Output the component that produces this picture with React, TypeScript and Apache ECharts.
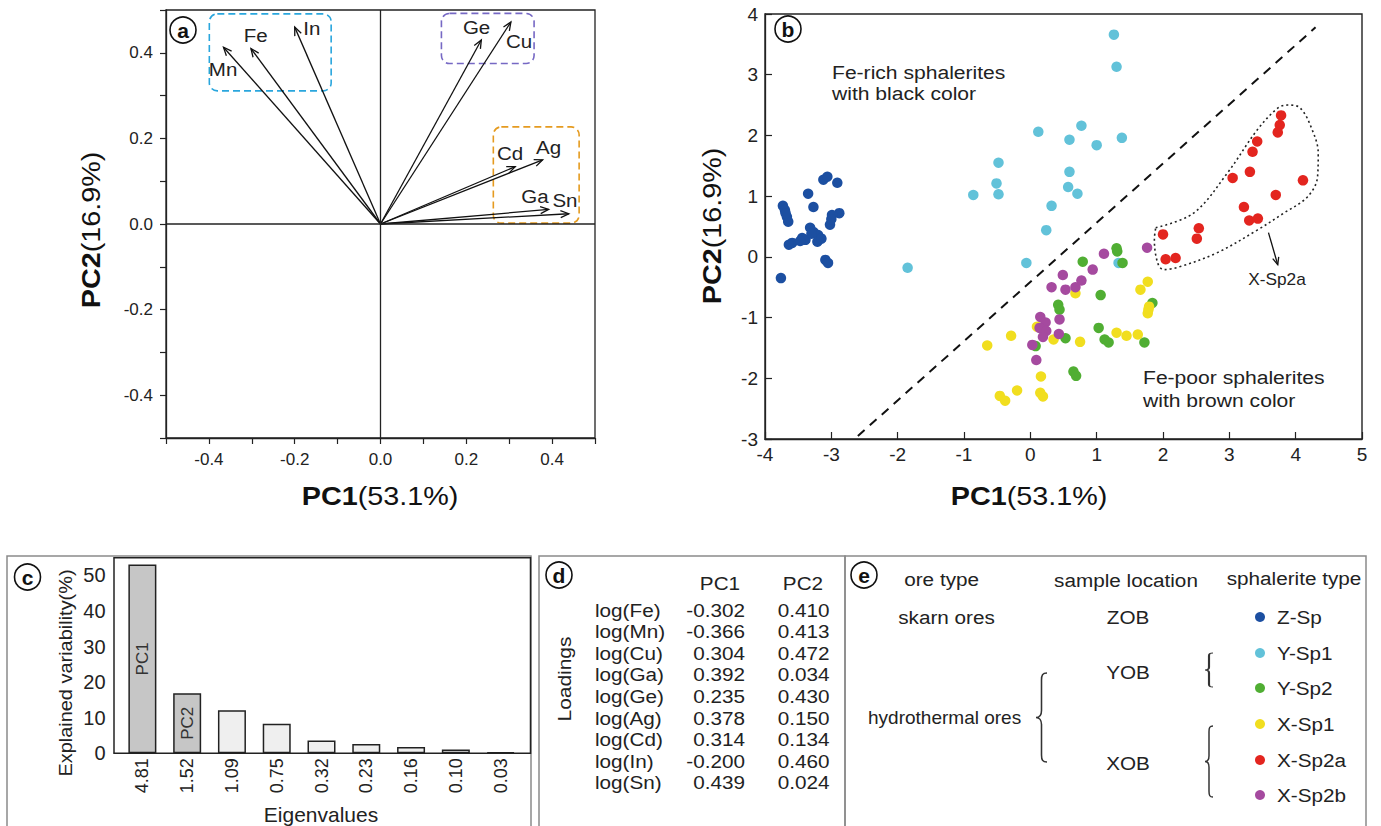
import React, { useEffect, useRef } from 'react';
import * as echarts from 'echarts';

const FONT = 'Liberation Sans, Arial, Helvetica, sans-serif';
const INK = '#222';

// ---------- panel a : loadings ----------
const elements = ['Fe', 'Mn', 'Cu', 'Ga', 'Ge', 'Ag', 'Cd', 'In', 'Sn'];
const pc1Loadings = [-0.302, -0.366, 0.304, 0.392, 0.235, 0.378, 0.314, -0.2, 0.439];
const pc2Loadings = [0.41, 0.413, 0.472, 0.034, 0.43, 0.15, 0.134, 0.46, 0.024];
const labelPc1 = [-0.291, -0.367, 0.323, 0.36, 0.224, 0.392, 0.302, -0.16, 0.43];
const labelPc2 = [0.442, 0.361, 0.428, 0.064, 0.459, 0.179, 0.165, 0.457, 0.056];
const groupBoxes = [
  [-0.399, 0.491, -0.115, 0.311],
  [0.142, 0.492, 0.358, 0.375],
  [0.263, 0.227, 0.463, 0.002],
];
const groupBoxColors = ['#2aa6dd', '#7668c4', '#e59b20'];

// ---------- panel b : scores ----------
const zSp = [
  [-3.12, 1.27], [-3.06, 1.32], [-2.91, 1.22], [-3.35, 1.04], [-3.73, 0.84], [-3.7, 0.77],
  [-3.67, 0.66], [-3.65, 0.58], [-3.27, 0.82], [-2.88, 0.72], [-2.99, 0.69], [-3.02, 0.53],
  [-3.32, 0.48], [-3.27, 0.41], [-3.2, 0.36], [-3.44, 0.31], [-3.39, 0.28], [-3.59, 0.23],
  [-3.64, 0.2], [-3.21, 0.25], [-3.09, -0.05], [-3.05, -0.1], [-3.76, -0.35], [-3.3, 0.38],
  [-3.15, 0.3], [-3.47, 0.26], [-3.69, 0.72], [-3.0, 0.62],
];
const ySp1 = [
  [1.26, 3.66], [1.3, 3.13], [0.12, 2.06], [0.77, 2.16], [0.59, 1.93], [1.0, 1.84], [1.38, 1.96],
  [-0.48, 1.55], [-0.51, 1.21], [-0.48, 1.03], [-0.86, 1.02], [0.59, 1.4], [0.57, 1.15],
  [0.71, 1.04], [0.32, 0.84], [0.24, 0.44], [-0.06, -0.1], [1.33, -0.1], [-1.85, -0.18],
];
const ySp2 = [
  [1.31, 0.09], [1.3, 0.14], [0.79, -0.08], [1.39, -0.1], [1.06, -0.63], [0.42, -0.79], [0.44, -0.87],
  [1.84, -0.76], [1.03, -1.17], [0.53, -1.34], [1.12, -1.36], [1.18, -1.41], [1.72, -1.41],
  [0.08, -1.47], [0.65, -1.89], [0.69, -1.96],
];
const xSp1 = [
  [1.77, -0.41], [1.66, -0.54], [0.68, -0.6], [1.79, -0.82], [1.78, -0.87], [1.77, -0.93],
  [0.1, -1.15], [-0.29, -1.3], [-0.65, -1.46], [0.35, -1.36], [0.75, -1.4], [1.3, -1.25],
  [1.45, -1.3], [1.62, -1.28], [0.16, -1.97], [-0.2, -2.2], [-0.46, -2.29], [-0.38, -2.37],
  [0.15, -2.24], [0.19, -2.3],
];
const xSp2a = [
  [3.78, 2.33], [3.76, 2.17], [3.73, 2.05], [3.42, 1.9], [3.35, 1.73], [3.31, 1.4], [3.05, 1.3],
  [4.11, 1.26], [3.7, 1.02], [3.22, 0.82], [3.3, 0.6], [3.43, 0.63], [2.54, 0.47], [2.51, 0.3],
  [2.0, 0.37], [2.04, -0.04], [2.19, -0.02],
];
const xSp2b = [
  [1.11, 0.05], [1.76, 0.15], [0.94, -0.21], [0.49, -0.3], [0.32, -0.5], [0.53, -0.54], [0.68, -0.5],
  [0.77, -0.39], [0.44, -1.03], [0.15, -0.99], [0.23, -1.08], [0.14, -1.17], [0.24, -1.22],
  [0.19, -1.32], [0.43, -1.27], [0.03, -1.45], [0.09, -1.7],
];
const xSp2aOutline = [
  [1.89, 0.48], [2.46, 0.72], [2.97, 1.38], [3.42, 2.09], [3.73, 2.45], [3.88, 2.5], [4.07, 2.45],
  [4.25, 2.09], [4.34, 1.71], [4.33, 1.32], [4.18, 0.99], [3.82, 0.72], [3.42, 0.44], [2.82, 0.07],
  [2.26, -0.16], [2.01, -0.21], [1.92, -0.1], [1.87, 0.28], [1.89, 0.48],
];
const dividerLine = [[-2.6, -2.95], [4.3, 3.78]];
const xSp2aPointer = [[3.59, 0.4, 3.73, -0.13]];

// ---------- panel c : scree ----------
const eigenvalues = ['4.81', '1.52', '1.09', '0.75', '0.32', '0.23', '0.16', '0.10', '0.03'];
const explainedVariability = [53.1, 16.9, 12.1, 8.3, 3.6, 2.6, 1.8, 1.1, 0.3];
const barLabels = ['PC1', 'PC2', '', '', '', '', '', '', ''];

// ---------- panel e : legend ----------
const typeNames = ['Z-Sp', 'Y-Sp1', 'Y-Sp2', 'X-Sp1', 'X-Sp2a', 'X-Sp2b'];
const typeColors = ['#1c4fa1', '#62c2d9', '#50ae33', '#f1de1f', '#e3251f', '#a54a9f'];
const scoreSets = [zSp, ySp1, ySp2, xSp1, xSp2a, xSp2b];

const BRACE_D = 'M10,0 C6,0 5,2 5,8 L5,42 C5,47 3,50 0,50 C3,50 5,53 5,58 L5,92 C5,98 6,100 10,100';
echarts.graphic.registerShape('brace', echarts.graphic.extendPath(BRACE_D, {}));

function arrowRender(headLen: number, color: string, width: number) {
  return (params: any, api: any) => {
    const p0 = api.coord([api.value(0), api.value(1)]);
    const p1 = api.coord([api.value(2), api.value(3)]);
    const ang = Math.atan2(p1[1] - p0[1], p1[0] - p0[0]);
    const a = 0.4;
    const h1 = [p1[0] - headLen * Math.cos(ang - a), p1[1] - headLen * Math.sin(ang - a)];
    const h2 = [p1[0] - headLen * Math.cos(ang + a), p1[1] - headLen * Math.sin(ang + a)];
    return {
      type: 'group',
      children: [
        { type: 'line', shape: { x1: p0[0], y1: p0[1], x2: p1[0], y2: p1[1] }, style: { stroke: color, lineWidth: width } },
        { type: 'polyline', shape: { points: [h1, p1, h2] }, style: { stroke: color, lineWidth: width, fill: 'none' } },
      ],
    };
  };
}

function txt(text: string, x: number, y: number, o: any = {}) {
  return {
    type: 'text', x, y, silent: true,
    rotation: o.rot ?? 0, scaleX: o.sx ?? 1.09,
    style: {
      text, fontSize: o.fs ?? 19, fontFamily: FONT, fill: o.color ?? INK,
      align: o.align ?? 'left', verticalAlign: 'middle', fontWeight: o.fw ?? 'normal',
    },
  };
}

function titleText(bold: string, rest: string, x: number, y: number, rot: number) {
  return {
    type: 'text', x, y, rotation: rot, scaleX: 1.15, silent: true,
    style: {
      text: `{b|${bold}}{n|${rest}}`,
      align: 'center', verticalAlign: 'middle',
      rich: {
        b: { fontSize: 25, fontWeight: 'bold', fontFamily: FONT, fill: '#111' },
        n: { fontSize: 25, fontFamily: FONT, fill: '#111' },
      },
    },
  };
}

function circled(letter: string, x: number, y: number) {
  return {
    type: 'group', x, y, silent: true,
    children: [
      { type: 'circle', shape: { cx: 0, cy: 0, r: 13 }, style: { fill: '#fff', stroke: '#111', lineWidth: 1.6 } },
      { type: 'text', x: 0, y: 0, style: { text: letter, fontSize: 21, fontWeight: 'bold', fontFamily: FONT, fill: '#111', align: 'center', verticalAlign: 'middle' } },
    ],
  };
}

function frameRect(x: number, y: number, w: number, h: number, color: string, lw: number) {
  return { type: 'rect', silent: true, shape: { x, y, width: w, height: h }, style: { fill: 'none', stroke: color, lineWidth: lw } };
}

function brace(x: number, y: number, w: number, h: number) {
  return { type: 'brace', x, y, scaleX: w / 10, scaleY: h / 100, silent: true, style: { fill: 'none', stroke: '#333', lineWidth: 1.4, strokeNoScale: true } };
}

const tenthFmt = (v: number) => {
  const r = Math.round(v * 10);
  return r % 2 === 0 && Math.abs(r) < 5 ? (r / 10).toFixed(1) : '';
};

export default function App() {
  const ref = useRef<HTMLDivElement>(null);
  useEffect(() => {
    if (!ref.current) return;
    const chart = echarts.init(ref.current, undefined, { renderer: 'svg' });

    const axisLine = { onZero: false, lineStyle: { color: INK, width: 1.3 } };
    const tickStyle = { color: INK, width: 1.2 };

    const scatterSeries = scoreSets.map((d, i) => ({
      type: 'scatter', name: typeNames[i], xAxisIndex: 1, yAxisIndex: 1,
      data: d, symbolSize: 10.5, itemStyle: { color: typeColors[i], opacity: 1 }, z: 5,
    }));

    const rowY0 = 610, rowStep = 21.6;
    const tableTexts: any[] = [];
    elements.forEach((el, i) => {
      const y = rowY0 + i * rowStep;
      tableTexts.push(txt(`log(${el})`, 595, y));
      tableTexts.push(txt(pc1Loadings[i].toFixed(3), 745, y, { align: 'right' }));
      tableTexts.push(txt(pc2Loadings[i].toFixed(3), 829.5, y, { align: 'right' }));
    });

    const legendY = [617, 653, 688, 724, 760, 795];
    const legendItems: any[] = [];
    typeNames.forEach((n, i) => {
      legendItems.push({ type: 'circle', silent: true, shape: { cx: 1260, cy: legendY[i], r: 5 }, style: { fill: typeColors[i] } });
      legendItems.push(txt(n, 1277, legendY[i]));
    });

    const option: any = {
      animation: false,
      backgroundColor: '#fff',
      textStyle: { fontFamily: FONT },
      grid: [
        { left: 166, top: 10, width: 429, height: 428, show: true, borderColor: INK, borderWidth: 1.3, backgroundColor: 'transparent' },
        { left: 765, top: 14, width: 597, height: 425, show: true, borderColor: INK, borderWidth: 1.4, backgroundColor: 'transparent' },
        { left: 120, top: 557.7, width: 403, height: 195.6, show: false },
      ],
      xAxis: [
        {
          gridIndex: 0, type: 'value', min: -0.5, max: 0.5, interval: 0.1, position: 'bottom',
          axisLine, axisTick: { show: true, inside: false, length: 6, lineStyle: tickStyle },
          axisLabel: { formatter: tenthFmt, fontSize: 17, color: INK, margin: 13, showMinLabel: true, showMaxLabel: true },
          splitLine: { show: false },
        },
        {
          gridIndex: 1, type: 'value', min: -4, max: 5, interval: 1, position: 'bottom',
          axisLine, axisTick: { show: true, inside: true, length: 7, lineStyle: tickStyle },
          axisLabel: { fontSize: 19, color: INK, margin: 6 },
          splitLine: { show: false },
        },
        {
          gridIndex: 2, type: 'category', data: eigenvalues,
          axisLine: { show: false }, axisTick: { show: false },
          axisLabel: { rotate: 90, fontSize: 18, color: INK, margin: 5 },
          splitLine: { show: false },
        },
      ],
      yAxis: [
        {
          gridIndex: 0, type: 'value', min: -0.5, max: 0.5, interval: 0.1,
          axisLine, axisTick: { show: true, inside: false, length: 6, lineStyle: tickStyle },
          axisLabel: { formatter: tenthFmt, fontSize: 17, color: INK, margin: 13 },
          splitLine: { show: false },
        },
        {
          gridIndex: 1, type: 'value', min: -3, max: 4, interval: 1,
          axisLine, axisTick: { show: true, inside: true, length: 7, lineStyle: tickStyle },
          axisLabel: { fontSize: 19, color: INK, margin: 7 },
          splitLine: { show: false },
        },
        {
          gridIndex: 2, type: 'value', min: 0, max: 55, interval: 10, offset: 6.4,
          axisLine: { show: true, onZero: false, lineStyle: { color: INK, width: 1.5 } }, axisTick: { show: false },
          axisLabel: { fontSize: 20, color: INK, margin: 8, formatter: (v: number) => (v % 10 === 0 ? String(v) : '') },
          splitLine: { show: false },
        },
      ],
      series: [
        { type: 'line', xAxisIndex: 0, yAxisIndex: 0, data: [[-0.5, 0], [0.5, 0]], symbol: 'none', silent: true, lineStyle: { color: INK, width: 1.3 } },
        { type: 'line', xAxisIndex: 0, yAxisIndex: 0, data: [[0, -0.5], [0, 0.5]], symbol: 'none', silent: true, lineStyle: { color: INK, width: 1.3 } },
        {
          type: 'custom', xAxisIndex: 0, yAxisIndex: 0, silent: true, clip: false,
          data: groupBoxes,
          encode: { x: [0, 2], y: [1, 3] },
          renderItem: (params: any, api: any) => {
            const p0 = api.coord([api.value(0), api.value(1)]);
            const p1 = api.coord([api.value(2), api.value(3)]);
            return {
              type: 'rect',
              shape: { x: Math.min(p0[0], p1[0]), y: Math.min(p0[1], p1[1]), width: Math.abs(p1[0] - p0[0]), height: Math.abs(p1[1] - p0[1]), r: 8 },
              style: { fill: 'none', stroke: groupBoxColors[params.dataIndex], lineWidth: 1.6, lineDash: [7, 4] },
            };
          },
        },
        {
          type: 'custom', xAxisIndex: 0, yAxisIndex: 0, silent: true, clip: false,
          data: elements.map((_, i) => [0, 0, pc1Loadings[i], pc2Loadings[i]]),
          encode: { x: [0, 2], y: [1, 3] },
          renderItem: arrowRender(9, '#111', 1.3),
        },
        {
          type: 'custom', xAxisIndex: 0, yAxisIndex: 0, silent: true, clip: false,
          data: elements.map((_, i) => [labelPc1[i], labelPc2[i]]),
          encode: { x: 0, y: 1 },
          renderItem: (params: any, api: any) => {
            const p = api.coord([api.value(0), api.value(1)]);
            return {
              type: 'text', x: p[0], y: p[1], scaleX: 1.08,
              style: { text: elements[params.dataIndex], fontSize: 19, fontFamily: FONT, fill: INK, align: 'center', verticalAlign: 'middle' },
            };
          },
        },
        {
          type: 'line', xAxisIndex: 1, yAxisIndex: 1, data: dividerLine, symbol: 'none', silent: true, z: 3,
          lineStyle: { color: '#111', width: 2, type: [9, 7] },
        },
        {
          type: 'line', xAxisIndex: 1, yAxisIndex: 1, data: xSp2aOutline, symbol: 'none', silent: true, smooth: 0.35, z: 3,
          lineStyle: { color: '#222', width: 1.6, type: [2, 3] },
        },
        {
          type: 'custom', xAxisIndex: 1, yAxisIndex: 1, silent: true, clip: false,
          data: xSp2aPointer, encode: { x: [0, 2], y: [1, 3] },
          renderItem: arrowRender(8, '#111', 1.3),
        },
        ...scatterSeries,
        {
          type: 'bar', xAxisIndex: 2, yAxisIndex: 2, barWidth: 28, silent: true,
          data: explainedVariability.map((v, i) => ({
            value: v,
            itemStyle: { color: i < 2 ? '#c6c6c6' : '#efefef', borderColor: '#222', borderWidth: 1.5 },
          })),
          label: {
            show: true, position: 'inside', rotate: 90, fontSize: 17, color: '#333', fontFamily: FONT,
            formatter: (p: any) => barLabels[p.dataIndex],
          },
        },
      ],
      graphic: [
        // panel frames (bottom row)
        frameRect(7, 556, 524, 280, '#8a8a8a', 1.5),
        frameRect(539, 556, 306, 280, '#8a8a8a', 1.5),
        frameRect(845, 556, 521, 280, '#8a8a8a', 1.5),
        // scree plot frame
        { type: 'polyline', silent: true, shape: { points: [[113.6, 557.7], [530.5, 557.7], [530.5, 753.3], [113.6, 753.3]] }, style: { fill: 'none', stroke: INK, lineWidth: 1.5 } },
        // circled letters
        circled('a', 183, 30),
        circled('b', 788, 29),
        circled('c', 27.5, 577),
        circled('d', 559, 575),
        circled('e', 864, 575),
        // axis titles
        titleText('PC2', '(16.9%)', 92, 230, Math.PI / 2),
        titleText('PC1', '(53.1%)', 380, 497, 0),
        titleText('PC2', '(16.9%)', 713, 226, Math.PI / 2),
        titleText('PC1', '(53.1%)', 1029, 497, 0),
        // panel b annotations
        txt('Fe-rich sphalerites', 832, 72, { sx: 1.11 }),
        txt('with black color', 832, 93, { sx: 1.11 }),
        txt('Fe-poor sphalerites', 1143, 377, { sx: 1.11 }),
        txt('with brown color', 1143, 400, { sx: 1.11 }),
        txt('X-Sp2a', 1277, 280, { fs: 16, align: 'center', sx: 1.08 }),
        // panel c titles
        txt('Explained variability(%)', 65.5, 673, { rot: Math.PI / 2, align: 'center', sx: 1.05 }),
        txt('Eigenvalues', 321, 815, { fs: 20, align: 'center', sx: 1.05 }),
        // panel d
        txt('PC1', 720, 583, { align: 'center' }),
        txt('PC2', 803, 583, { align: 'center' }),
        txt('Loadings', 564.5, 679, { rot: Math.PI / 2, align: 'center', sx: 1.1 }),
        ...tableTexts,
        // panel e
        txt('ore type', 941.6, 579, { align: 'center' }),
        txt('sample location', 1126, 580, { align: 'center' }),
        txt('sphalerite type', 1294, 578, { align: 'center' }),
        txt('skarn ores', 946.5, 617, { align: 'center' }),
        txt('ZOB', 1128, 617, { align: 'center' }),
        txt('YOB', 1128, 672, { align: 'center' }),
        txt('XOB', 1128, 763, { align: 'center' }),
        txt('hydrothermal ores', 944.6, 717, { align: 'center', sx: 1.0 }),
        brace(1036, 673, 11, 89),
        brace(1205, 653, 8, 34),
        brace(1205, 726, 8, 71),
        ...legendItems,
      ],
    };
    chart.setOption(option);
    return () => chart.dispose();
  }, []);
  return (
    <div
      ref={ref}
      style={{ position: 'fixed', left: 0, top: 0, width: 1381, height: 826, background: '#fff' }}
    />
  );
}
